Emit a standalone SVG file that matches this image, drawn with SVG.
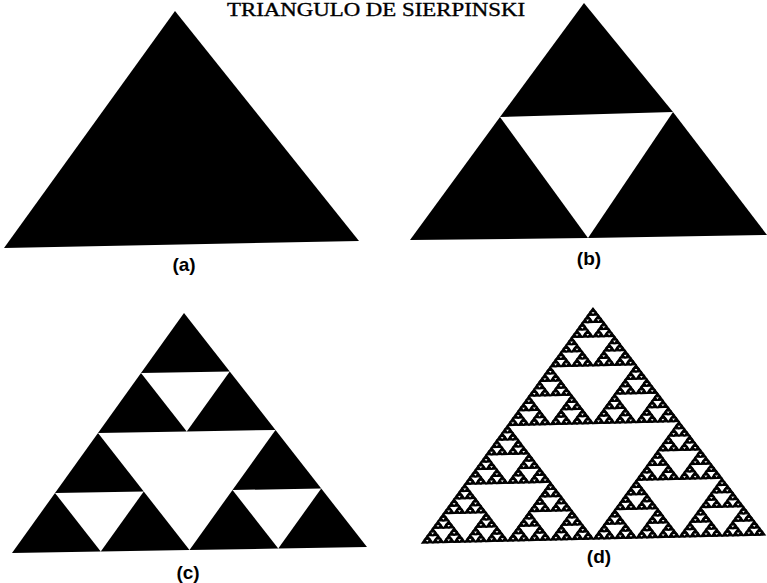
<svg xmlns="http://www.w3.org/2000/svg" width="767" height="583" viewBox="0 0 767 583">
<style>
.title{font-family:"Liberation Serif","Times New Roman",serif;font-size:18px;fill:#000;stroke:#000;stroke-width:0.35}
.lbl{font-family:"Liberation Sans",Arial,sans-serif;font-size:19px;font-weight:bold;fill:#000;text-anchor:middle}
#t0{vector-effect:non-scaling-stroke}
</style>
<defs>
<polygon id="t0" points="0,0 1,0 0,1"/>
<g id="t1"><use href="#t0" transform="matrix(.5,0,0,.5,0,0)"/><use href="#t0" transform="matrix(.5,0,0,.5,.5,0)"/><use href="#t0" transform="matrix(.5,0,0,.5,0,.5)"/></g>
<g id="t2"><use href="#t1" transform="matrix(.5,0,0,.5,0,0)"/><use href="#t1" transform="matrix(.5,0,0,.5,.5,0)"/><use href="#t1" transform="matrix(.5,0,0,.5,0,.5)"/></g>
<g id="t3"><use href="#t2" transform="matrix(.5,0,0,.5,0,0)"/><use href="#t2" transform="matrix(.5,0,0,.5,.5,0)"/><use href="#t2" transform="matrix(.5,0,0,.5,0,.5)"/></g>
<g id="t4"><use href="#t3" transform="matrix(.5,0,0,.5,0,0)"/><use href="#t3" transform="matrix(.5,0,0,.5,.5,0)"/><use href="#t3" transform="matrix(.5,0,0,.5,0,.5)"/></g>
<g id="t5"><use href="#t4" transform="matrix(.5,0,0,.5,0,0)"/><use href="#t4" transform="matrix(.5,0,0,.5,.5,0)"/><use href="#t4" transform="matrix(.5,0,0,.5,0,.5)"/></g>
<g id="t6"><use href="#t5" transform="matrix(.5,0,0,.5,0,0)"/><use href="#t5" transform="matrix(.5,0,0,.5,.5,0)"/><use href="#t5" transform="matrix(.5,0,0,.5,0,.5)"/></g>
</defs>
<rect width="767" height="583" fill="#fff"/>
<text class="title" x="227" y="16" textLength="298" lengthAdjust="spacingAndGlyphs">TRIANGULO DE SIERPINSKI</text>
<g id="fig-a">
<polygon points="175,11 4,248 359,241" fill="#000"/>
<text class="lbl" x="184" y="271">(a)</text>
</g>
<g id="fig-b" fill="#000">
<polygon points="584,3 500,117 673,112"/>
<polygon points="410,240 500,117 588,238"/>
<polygon points="588,238 673,112 767,235"/>
<text class="lbl" x="589" y="265">(b)</text>
</g>
<g id="fig-c" fill="#000">
<use href="#t2" transform="matrix(355,-6,172,-240,12,553)"/>
<text class="lbl" x="188" y="579">(c)</text>
</g>
<g id="fig-d" fill="#000" stroke="#000" stroke-width="1.3">
<use href="#t6" transform="matrix(343,-8,171,-235,422,543)"/>
<text class="lbl" x="599" y="563" stroke="none">(d)</text>
</g>
<g id="connectors"/>
</svg>
